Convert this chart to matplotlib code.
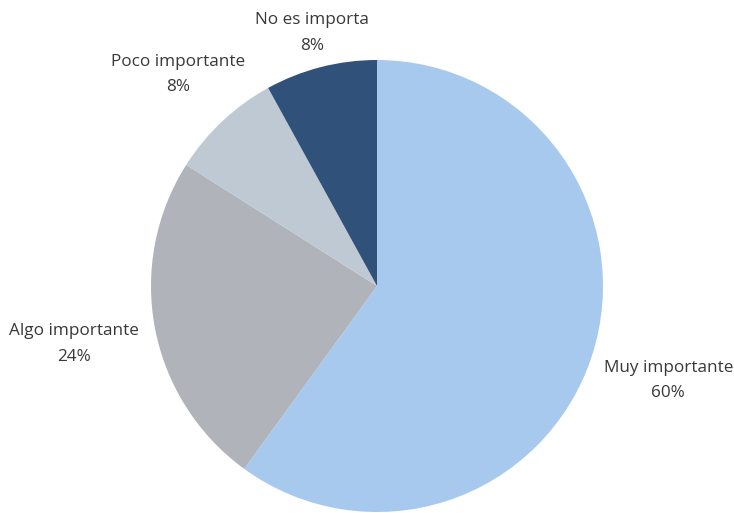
import numpy as np
import matplotlib.pyplot as plt

plt.rcParams['font.family'] = ['Open Sans', 'DejaVu Sans']

labels = ["Muy importante", "Algo importante", "Poco importante", "No es importa"]
shares = [60, 24, 8, 8]
colors = ["#A8C9EE", "#B0B3BA", "#BEC9D4", "#30517A"]
label_dist = [1.355, 1.365, 1.285, 1.155]

fig = plt.figure(figsize=(7.34, 5.13), dpi=100)
r_px = 226
cx, cy = 377, 286
ax = fig.add_axes([0, 0, 1, 1])

wedges, _ = ax.pie(shares, colors=colors, startangle=90, counterclock=False,
                   radius=1, wedgeprops=dict(linewidth=0))

for w, lab, val, d in zip(wedges, labels, shares, label_dist):
    mid = np.deg2rad((w.theta1 + w.theta2) / 2)
    ax.text(d * np.cos(mid), d * np.sin(mid), f"{lab}\n{val}%",
            ha='center', va='center', fontsize=12.3, color='#383838',
            linespacing=1.8)

ax.set_xlim(-cx / r_px, (734 - cx) / r_px)
ax.set_ylim(-(513 - cy) / r_px, cy / r_px)
ax.set_aspect('auto')
ax.axis('off')

fig.savefig("out.png", dpi=100)
